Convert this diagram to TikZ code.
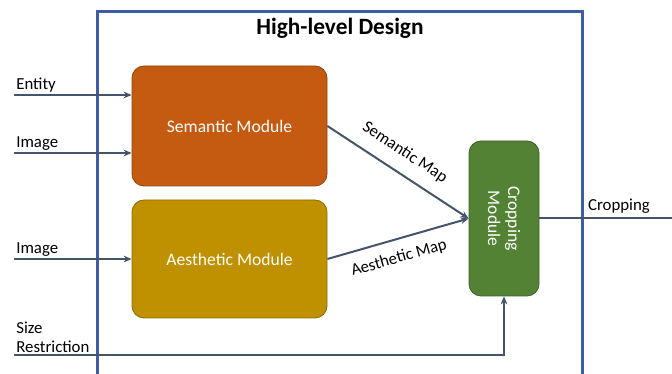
\documentclass[tikz,border=0pt]{standalone}
\usepackage{fontspec}
\setmainfont{Carlito}
\usetikzlibrary{arrows.meta}
\definecolor{frameblue}{HTML}{3C5DA5}
\definecolor{linkslate}{HTML}{44546A}
\definecolor{semorange}{HTML}{C55A11}
\definecolor{aesgold}{HTML}{BF9000}
\definecolor{cropgreen}{HTML}{548235}

\begin{document}
\begin{tikzpicture}[x=0.75pt, y=-0.75pt,
		module/.style = {draw=#1!75!black, fill=#1, rounded corners=9pt, text=white,
			font=\fontsize{13.2}{15}\selectfont, inner sep=0pt, line width=0.6pt},
		link/.style = {draw=linkslate, line width=1.5pt, -{Stealth[length=6pt, width=5pt]}},
		lbl/.style = {font=\fontsize{12.6}{14}\selectfont, inner sep=1pt}]

		\useasboundingbox (0,0) rectangle (672,374);

		% frame
		\draw[frameblue, line width=2.25pt] (97,374) -- (97,12) -- (582,12) -- (582,374);
		\node[font=\bfseries\fontsize{17.5}{20}\selectfont] (title) at (340,28) {High-level Design};

		% modules
		\node[module=semorange, minimum width=146.25pt, minimum height=90pt] (sem) at (229.5,126) {Semantic Module};
		\node[module=aesgold, minimum width=146.25pt, minimum height=88.5pt] (aes) at (229.5,259) {Aesthetic Module};
		\node[module=cropgreen, minimum width=116.25pt, minimum height=52.5pt, rotate=-90, align=center] (crop) at (504,218.5) {Cropping\\Module};

		% inputs
		\coordinate (entityin) at (14,95);
		\coordinate (imagein) at (14,153);
		\coordinate (imagetwo) at (14,259);
		\coordinate (sizein) at (14,355);
		\coordinate (out) at (672,218);

		\draw[link] (entityin) -- (entityin -| sem.west) node[lbl, pos=0, anchor=south west] {Entity};
		\draw[link] (imagein) -- (imagein -| sem.west) node[lbl, pos=0, anchor=south west] {Image};
		\draw[link] (imagetwo) -- (imagetwo -| aes.west) node[lbl, pos=0, anchor=south west] {Image};
		\draw[link] (sizein) -| (crop.east) node[lbl, pos=0, anchor=south west, align=left] {Size\\Restriction};

		% maps and output
		\draw[link] (sem.east) -- node[lbl, sloped, above=8pt, pos=0.47] {Semantic Map} (crop.south);
		\draw[link] (aes.east) -- node[lbl, sloped, below=7pt, pos=0.47] {Aesthetic Map} (crop.south);
		\draw[link, -] (crop.north) -- (crop.north -| out) node[lbl, pos=0.6, above=2pt] {Cropping};
	\end{tikzpicture}
\end{document}
